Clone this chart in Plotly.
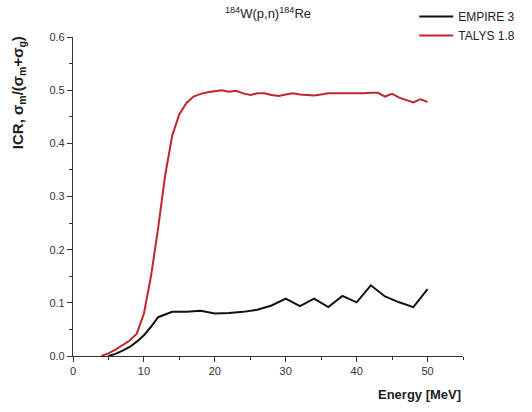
import plotly.graph_objects as go

# EMPIRE 3
empire_e = [5, 6, 7, 8, 9, 10, 11, 12, 14, 16, 18, 20, 22, 24, 26, 28, 30, 32, 34, 36, 38, 40, 42, 44, 46, 48, 50]
empire_icr = [0.0, 0.004, 0.010, 0.017, 0.027, 0.039, 0.055, 0.073, 0.083, 0.083, 0.085, 0.080, 0.081, 0.083,
              0.087, 0.095, 0.108, 0.094, 0.108, 0.092, 0.113, 0.101, 0.133, 0.112, 0.101, 0.092, 0.126]

# TALYS 1.8
talys_e = list(range(4, 51))
talys_icr = [0.0, 0.005, 0.012, 0.020, 0.029, 0.042, 0.080, 0.150, 0.240, 0.340, 0.415, 0.455, 0.476, 0.488,
             0.493, 0.496, 0.498, 0.500, 0.497, 0.499, 0.494, 0.491, 0.494, 0.494, 0.491, 0.489, 0.492,
             0.494, 0.492, 0.491, 0.490, 0.492, 0.494, 0.494, 0.494, 0.493, 0.493, 0.494, 0.495, 0.495,
             0.488, 0.493, 0.486, 0.482, 0.477, 0.483, 0.478]

x_ticks = [0, 10, 20, 30, 40, 50]
y_ticks = [0.0, 0.1, 0.2, 0.3, 0.4, 0.5, 0.6]

font_family = "Liberation Sans, Arial, sans-serif"

fig = go.Figure()
fig.add_trace(go.Scatter(x=empire_e, y=empire_icr, mode="lines", name="EMPIRE 3",
                         line=dict(color="#111111", width=2)))
fig.add_trace(go.Scatter(x=talys_e, y=talys_icr, mode="lines", name="TALYS 1.8",
                         line=dict(color="#c0272d", width=2)))

axis_common = dict(showgrid=False, zeroline=False, showline=True, linecolor="#333333", linewidth=1.2,
                   ticks="outside", ticklen=5, tickwidth=1.2, tickcolor="#333333",
                   tickfont=dict(family=font_family, size=11, color="#333333"), mirror=False)

fig.update_xaxes(range=[0, 55], tickvals=x_ticks, ticktext=[str(v) for v in x_ticks],
                 minor=dict(dtick=5, tick0=0, ticks="outside", ticklen=3, tickwidth=1.2, tickcolor="#333333"),
                 **axis_common)
fig.update_yaxes(range=[0, 0.6], tickvals=y_ticks, ticktext=[f"{v:.1f}" for v in y_ticks],
                 minor=dict(dtick=0.05, tick0=0, ticks="outside", ticklen=3, tickwidth=1.2, tickcolor="#333333"),
                 **axis_common)

fig.update_layout(
    width=532, height=412,
    margin=dict(l=73, r=69, t=37, b=56, autoexpand=False),
    paper_bgcolor="white", plot_bgcolor="white",
    font=dict(family=font_family, color="#222222"),
    showlegend=True,
    legend=dict(x=0.875, y=1.11, xanchor="left", yanchor="top", bgcolor="rgba(0,0,0,0)",
                font=dict(family=font_family, size=12, color="#222222"),
                itemwidth=34, tracegroupgap=0),
    annotations=[
        dict(text="<sup>184</sup>W(p,n)<sup>184</sup>Re", x=0.5, y=1.045, xref="paper", yref="paper",
             xanchor="center", yanchor="bottom", showarrow=False,
             font=dict(family=font_family, size=13, color="#222222")),
        dict(text="<b>Energy [MeV]</b>", x=1.0, y=-0.122, xref="paper", yref="paper",
             xanchor="right", yanchor="middle", showarrow=False,
             font=dict(family=font_family, size=13, color="#222222")),
        dict(text="<b>ICR, σ<sub>m</sub>/(σ<sub>m</sub>+σ<sub>g</sub>)</b>", x=-0.141, y=0.824,
             xref="paper", yref="paper", xanchor="center", yanchor="middle", textangle=-90,
             showarrow=False, font=dict(family=font_family, size=15, color="#222222")),
    ],
)

fig.write_html("out.html")
